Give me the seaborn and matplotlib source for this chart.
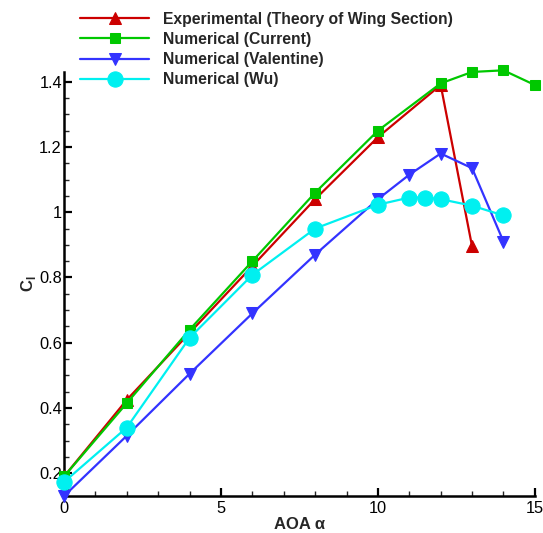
import numpy as np
import pandas as pd
import matplotlib
matplotlib.use("Agg")
import matplotlib.pyplot as plt
from matplotlib.ticker import MultipleLocator, FormatStrFormatter
import seaborn as sns

# =========================
# DATA
# =========================
aoa_exp = [0, 2, 4, 6, 8, 10, 12, 13]
cl_exp = [0.19, 0.425, 0.63, 0.835, 1.04, 1.23, 1.39, 0.895]

aoa_cur = [0, 2, 4, 6, 8, 10, 12, 13, 14, 15]
cl_cur = [0.19, 0.415, 0.64, 0.85, 1.06, 1.25, 1.395, 1.43, 1.435, 1.39]

aoa_val = [0, 2, 4, 6, 8, 10, 11, 12, 13, 14]
cl_val = [0.13, 0.315, 0.505, 0.69, 0.87, 1.04, 1.115, 1.18, 1.135, 0.91]

aoa_wu = [0, 2, 4, 6, 8, 10, 11, 11.5, 12, 13, 14]
cl_wu = [0.173, 0.34, 0.615, 0.808, 0.95, 1.023, 1.045, 1.045, 1.04, 1.02, 0.99]

labels = ["Experimental (Theory of Wing Section)", "Numerical (Current)",
          "Numerical (Valentine)", "Numerical (Wu)"]

# =========================
# STYLE
# =========================
sns.set_style("ticks")
plt.rcParams['font.family'] = ['Liberation Sans', 'DejaVu Sans']
plt.rcParams['mathtext.fontset'] = 'custom'
plt.rcParams['mathtext.rm'] = 'Liberation Sans'
plt.rcParams['mathtext.bf'] = 'Liberation Sans:bold'

fig = plt.figure(figsize=(5.43, 5.33), dpi=100)
ax = fig.add_axes([0.118, 0.0694, 0.867, 0.7956])

series = [
    (aoa_exp, cl_exp, "^", "#cc0000", 8),
    (aoa_cur, cl_cur, "s", "#00c800", 7.5),
    (aoa_val, cl_val, "v", "#3333ff", 8),
    (aoa_wu, cl_wu, "o", "#00f0f0", 11),
]

for i, (x, y, m, c, ms) in enumerate(series):
    df = pd.DataFrame({"aoa": x, "cl": y})
    sns.lineplot(data=df, x="aoa", y="cl", ax=ax, color=c, marker=m,
                 markersize=ms, markeredgecolor=c, linewidth=1.6,
                 label=labels[i], clip_on=False, zorder=3 + i)

ax.set_xlim(0, 15)
ax.set_ylim(0.13, 1.43)

# =========================
# AXES / TICKS
# =========================
ax.xaxis.set_major_locator(MultipleLocator(5))
ax.xaxis.set_minor_locator(MultipleLocator(1))
ax.yaxis.set_major_locator(MultipleLocator(0.2))
ax.yaxis.set_minor_locator(MultipleLocator(0.05))
ax.yaxis.set_major_formatter(FormatStrFormatter('%g'))
ax.tick_params(which='major', direction='in', length=6, width=1.6, labelsize=11.8,
               colors='black')
ax.tick_params(which='minor', direction='in', length=3.5, width=1.0)
ax.tick_params(axis='y', pad=1.5)

sns.despine(ax=ax)
for s in ["left", "bottom"]:
    ax.spines[s].set_linewidth(1.8)
    ax.spines[s].set_color("black")

ax.set_xlabel("AOA α", fontsize=12, fontweight='bold', labelpad=1)
ax.set_ylabel(r"C$_\mathregular{l}$", fontsize=12, fontweight='bold', labelpad=1)

# =========================
# LEGEND
# =========================
leg = ax.legend(loc='upper left', bbox_to_anchor=(0.126, 1.0), bbox_transform=fig.transFigure,
                frameon=False, handlelength=4.4, handletextpad=0.9,
                labelspacing=0.33, borderaxespad=0.35,
                prop={'weight': 'bold', 'size': 11.3})

fig.savefig("out.png", dpi=100)
